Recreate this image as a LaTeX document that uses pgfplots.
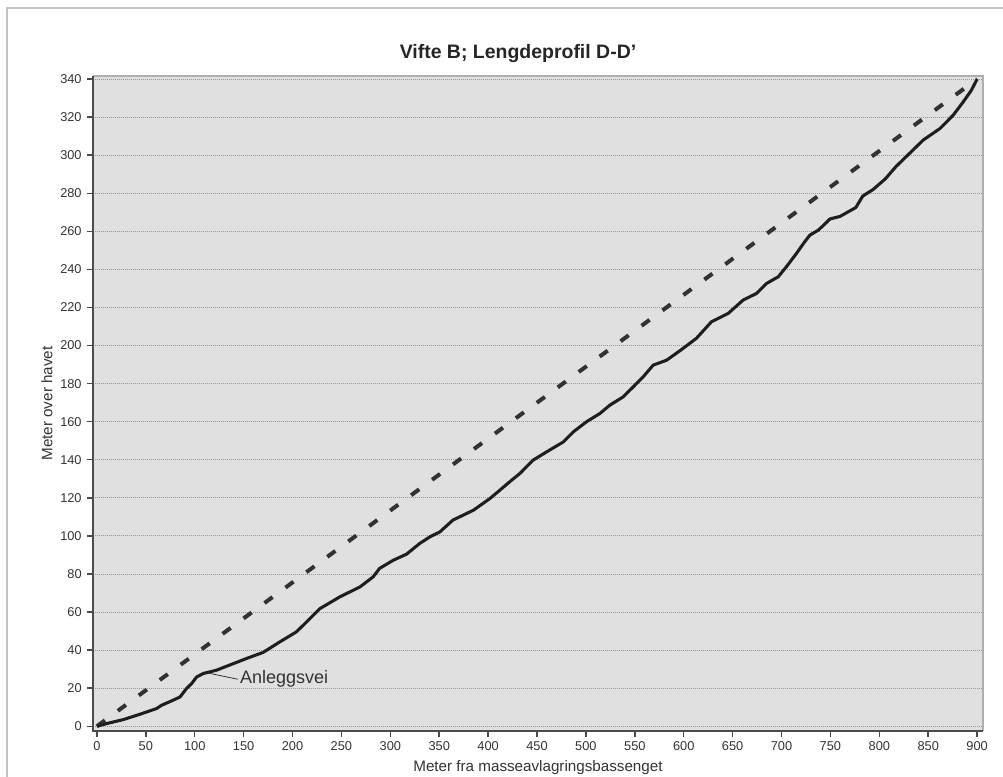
\documentclass[border=0pt]{standalone}
\usepackage{fontspec}
\setmainfont{Liberation Sans}
\usepackage{pgfplots}
\usepackage{pgfplotstable}
\pgfplotsset{compat=1.18}
\definecolor{bgc}{RGB}{224,224,224}
\definecolor{gridc}{RGB}{150,150,150}
\definecolor{axdark}{RGB}{75,75,75}
\definecolor{axlight}{RGB}{175,175,175}
\definecolor{framec}{RGB}{195,195,195}
\definecolor{linec}{RGB}{30,30,30}
\definecolor{dashc}{RGB}{50,50,50}
\pgfplotstableread{
x y
0 0
10 1.4
27 3.5
44 6.3
61 9.3
66 11
78 13.7
85 15.4
91.6 19.8
96.8 22.4
102 25.9
108.7 27.7
122 29.4
136 32.2
153 35.6
170 38.8
187 44.3
204 49.6
214.4 54.8
228 61.8
248.5 68
269 73.2
282.5 78.5
289 82.9
303 87.2
316.6 90.4
330 96
340.5 99.5
350.7 102.1
364 108.3
385 113.5
402 119.7
412 124
422 128.4
432.5 132.8
446 139.8
460 144.2
477 149.4
487 154.6
500.7 160
514.3 164.3
524.5 168.7
538 173
548.4 178.3
558.6 183.6
568.8 189.7
582.5 192.3
597 197.6
613 203.8
628.4 212.5
645.5 216.9
660.8 223.9
674.5 227.4
684.7 232.6
696.6 236.1
705 241.4
715.3 248.4
723.7 254.5
729 258
737.5 260.6
742.6 263
749.5 266.5
759.7 267.8
776 272.5
783 278.5
793.7 282
806 287.5
817 294
831 301
845 308
862 314
875.5 321
885.8 328
894 334
900 340
}\profile
\begin{document}
\begin{tikzpicture}
\useasboundingbox (-69.75pt,-33.75pt) rectangle (682.5pt,548.25pt);
\draw[framec, line width=0.9pt] (-64.5pt,-40pt) -- (-64.5pt,542.25pt) -- (690pt,542.25pt);
\begin{axis}[
  at={(0,0)}, anchor=south west,
  width=667.5pt, height=491.25pt, scale only axis,
  xmin=-4, xmax=906, ymin=-2.5, ymax=341.6,
  axis background/.style={fill=bgc},
  axis line style={draw=none},
  axis lines=left,
  xtick={0,50,...,900}, ytick={0,20,...,340},
  tick align=outside,
  major tick length=4.5pt,
  tick style={axdark, line width=1.1pt},
  ymajorgrids,
  grid style={gridc, line width=0.6pt, dash pattern=on 0.75pt off 0.75pt},
  /pgf/number format/assume math mode=true,
  ticklabel style={font=\fontsize{9.6pt}{11pt}\selectfont, text=black!80},
  yticklabel style={xshift=-0.5pt},
  xlabel={Meter fra masseavlagringsbassenget},
  ylabel={Meter over havet},
  xlabel style={font=\fontsize{11.4pt}{13pt}\selectfont, text=black!80, at={(axis description cs:0.5,0)}, anchor=center, yshift=-27.75pt},
  ylabel style={font=\fontsize{11.4pt}{13pt}\selectfont, text=black!80, at={(axis description cs:-0.0517,0.5)}, anchor=center},
  title={Vifte B; Lengdeprofil D-D'},
  title style={font=\bfseries\fontsize{14.6pt}{17pt}\selectfont, text=black!85, at={(axis description cs:0.5,1)}, anchor=center, xshift=-15pt, yshift=10.5pt},
  clip=false,
]
\addplot[dashc, line width=3pt, dash pattern=on 7.5pt off 12pt] coordinates {(0,0) (900,340)};
\addplot[linec, line width=2.3pt, line join=round] table[x=x,y=y] {\profile};
\draw[black!80, line width=0.6pt] (axis cs:115,27.8) -- (axis cs:144,24.7) node[right, inner sep=1.5pt, font=\fontsize{13.5pt}{15pt}\selectfont, text=black!80] {Anleggsvei};
\draw[axlight, line width=0.8pt] (rel axis cs:0,1) -- (rel axis cs:1,1) -- (rel axis cs:1,0);
\draw[axdark, line width=1.5pt] (rel axis cs:0,1) -- (rel axis cs:0,0) -- (rel axis cs:1,0);
\end{axis}
\end{tikzpicture}
\end{document}
